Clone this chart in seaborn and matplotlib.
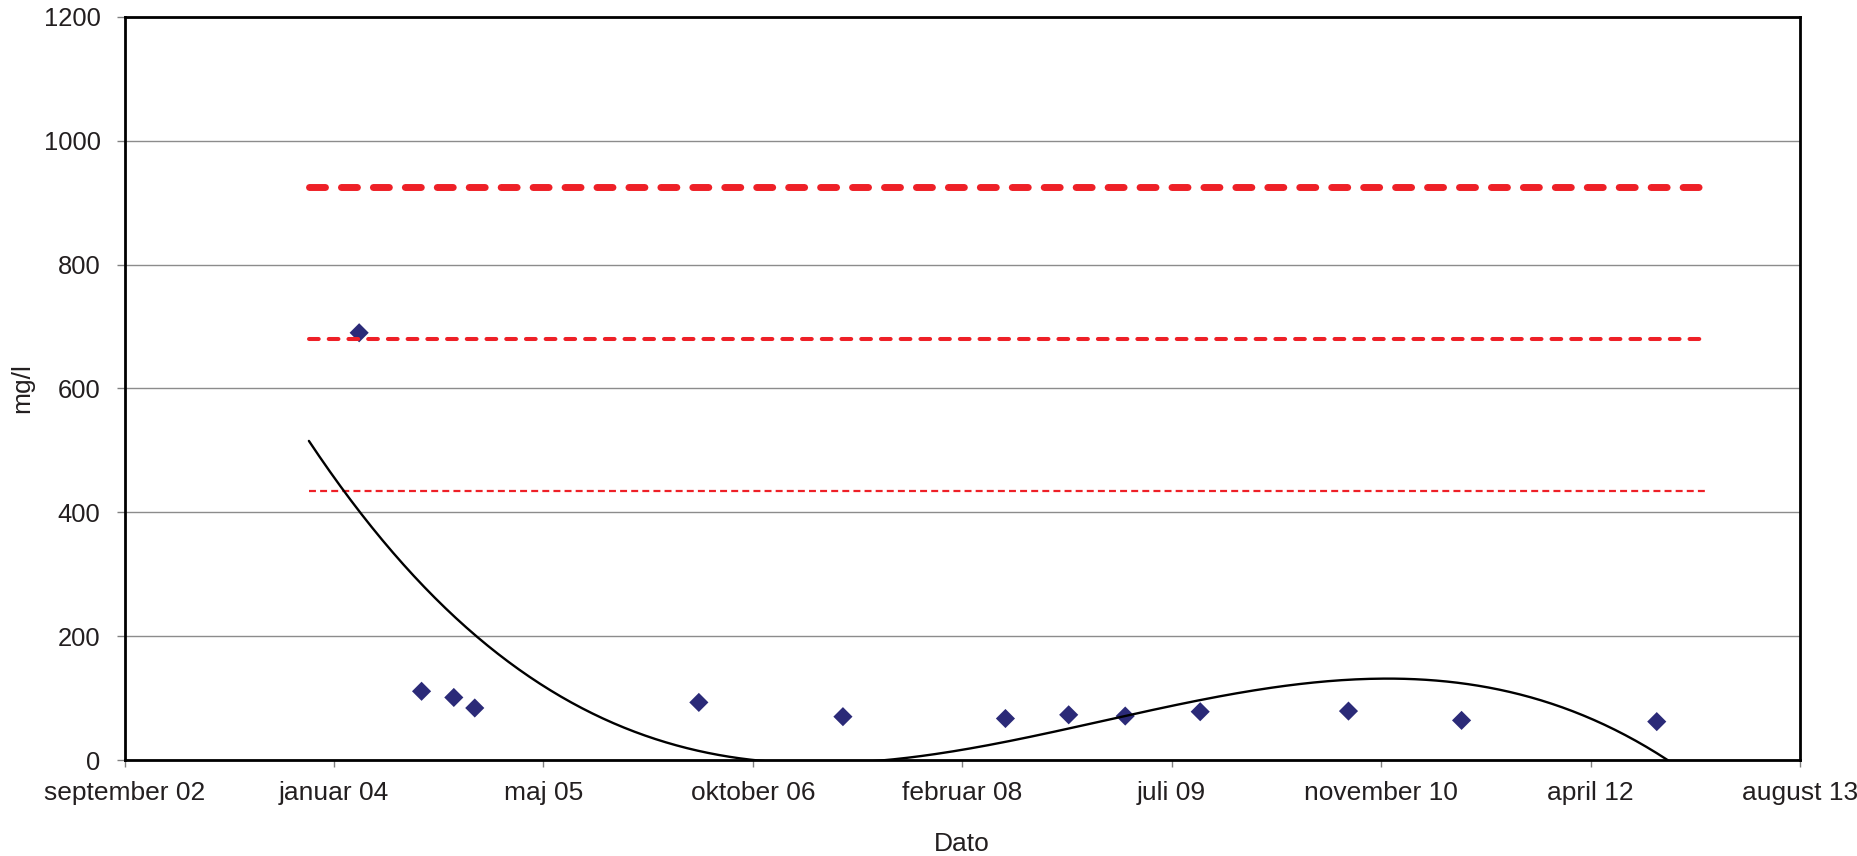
import numpy as np
import pandas as pd
import matplotlib
matplotlib.use("Agg")
import matplotlib.pyplot as plt
import matplotlib.dates as mdates
import seaborn as sns

# Measured concentrations (mg/l) by sampling date
sample_dates = ["2004-03-14", "2004-08-10", "2004-10-26", "2004-12-15",
                "2006-06-03", "2007-05-13", "2008-06-04", "2008-11-02",
                "2009-03-17", "2009-09-12", "2010-09-01", "2011-05-29",
                "2012-09-06"]
sample_values = [690, 111, 101, 84, 93, 70, 67, 73, 71, 78, 79, 64, 62]

# Reference levels (mg/l) drawn across the monitoring period
limit_values = [925, 680, 435]
limit_start = "2003-11-15"
limit_end = "2013-01-01"

# Axis ticks
tick_start = "2002-09-01"
tick_labels = ["september 02", "januar 04", "maj 05", "oktober 06", "februar 08",
               "juli 09", "november 10", "april 12", "august 13"]
y_ticks = [0, 200, 400, 600, 800, 1000, 1200]

sns.set_style("white")
plt.rcParams["font.family"] = ["Liberation Sans", "DejaVu Sans"]
plt.rcParams["lines.scale_dashes"] = False

TEXT = "#231F20"
RED = "#EE2027"
NAVY = "#2B2A78"

df = pd.DataFrame({"dato": pd.to_datetime(sample_dates), "mg": sample_values})

fig = plt.figure(figsize=(18.58, 8.56), dpi=100)
W, H = 1858, 856
left, right, top, bottom = 124.6, 1800, 17, 760
ax = fig.add_axes([left / W, 1 - bottom / H, (right - left) / W, (bottom - top) / H])

# gridlines
ax.set_axisbelow(True)
ax.yaxis.grid(True, color="#8C8C8C", linewidth=1.0)
ax.xaxis.grid(False)

# measurements
sns.scatterplot(data=df, x="dato", y="mg", marker="D", s=95, color=NAVY,
                edgecolor="none", linewidth=0, ax=ax, zorder=2, legend=False)

# reference levels
period = pd.to_datetime([limit_start, limit_end])
styles = [
    dict(linewidth=5.0, linestyle=(0, (11.5, 11.5)), dash_capstyle="round"),
    dict(linewidth=2.9, linestyle=(0, (7.0, 7.2)), dash_capstyle="round"),
    dict(linewidth=1.6, linestyle=(0, (5.0, 3.0)), dash_capstyle="butt"),
]
for val, st in zip(limit_values, styles):
    sns.lineplot(x=period, y=[val, val], color=RED, ax=ax, zorder=3, **st)

# third-order polynomial trend of the measurements
x_days = mdates.date2num(df["dato"])
x0 = x_days.mean()
coef = np.polyfit(x_days - x0, df["mg"].to_numpy(), 3)
t_num = np.linspace(mdates.date2num(period[0]), mdates.date2num(period[1]), 400)
trend = pd.DataFrame({"dato": mdates.num2date(t_num), "mg": np.polyval(coef, t_num - x0)})
sns.lineplot(data=trend, x="dato", y="mg", color="black", linewidth=1.7, ax=ax, zorder=4)

# axes
tick_dates = pd.date_range(tick_start, periods=len(tick_labels), freq="500D")
ax.set_xlim(tick_dates[0], tick_dates[-1])
ax.set_ylim(0, 1200)
ax.set_xticks(tick_dates)
ax.set_xticklabels(tick_labels)
ax.set_yticks(y_ticks)
ax.set_yticklabels([str(v) for v in y_ticks])

ax.tick_params(axis="x", which="major", direction="out", length=5, width=1,
               color="#808080", labelsize=19, labelcolor=TEXT, pad=10, bottom=True)
ax.tick_params(axis="y", which="major", direction="out", length=5.8, width=1,
               color="#808080", labelsize=18.4, labelcolor=TEXT, pad=11.5, left=True)

for sp in ax.spines.values():
    sp.set_visible(True)
    sp.set_color("black")
    sp.set_linewidth(2.0)
    sp.set_zorder(5)

ax.set_xlabel("Dato", fontsize=19, color=TEXT)
ax.set_ylabel("mg/l", fontsize=19, color=TEXT)
ax.xaxis.set_label_coords((962 - left) / (right - left), -(832 - bottom) / (bottom - top))
ax.yaxis.set_label_coords(-(left - 34) / (right - left), 0.5)

fig.savefig("out.png", dpi=100, facecolor="white")
